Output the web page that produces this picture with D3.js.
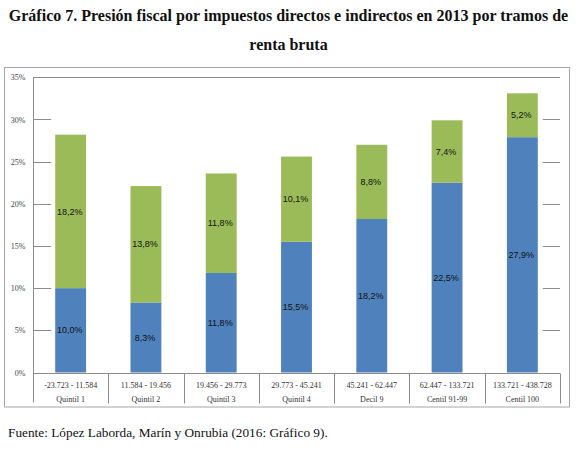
<!DOCTYPE html>
<html><head><meta charset="utf-8">
<script src="https://cdn.jsdelivr.net/npm/d3@7"></script>
<style>body{margin:0;background:#fff}svg{display:block}</style>
</head><body>
<script>
const categories = ["Quintil 1","Quintil 2","Quintil 3","Quintil 4","Decil 9","Centil 91-99","Centil 100"];
const ranges = ["-23.723 - 11.584","11.584 - 19.456","19.456 - 29.773","29.773 - 45.241","45.241 - 62.447","62.447 - 133.721","133.721 - 438.728"];
const directos = [10.0, 8.3, 11.8, 15.5, 18.2, 22.5, 27.9];
const indirectos = [18.2, 13.8, 11.8, 10.1, 8.8, 7.4, 5.2];
const yTicks = [0,5,10,15,20,25,30,35];
const title1 = "Gráfico 7. Presión fiscal por impuestos directos e indirectos en 2013 por tramos de";
const title2 = "renta bruta";
const source = "Fuente: López Laborda, Marín y Onrubia (2016: Gráfico 9).";

const W=577,H=455;
const svg=d3.select("body").append("svg").attr("width",W).attr("height",H);
const serif="'Liberation Serif','Times New Roman',serif";
const sans="'Liberation Sans',Arial,sans-serif";

svg.append("text").attr("x",288.5).attr("y",21).attr("text-anchor","middle")
  .attr("font-family",serif).attr("font-weight","bold").attr("font-size",16).attr("fill","#111").text(title1);
svg.append("text").attr("x",288.5).attr("y",50).attr("text-anchor","middle")
  .attr("font-family",serif).attr("font-weight","bold").attr("font-size",16).attr("fill","#111").text(title2);

// outer frame
svg.append("rect").attr("x",4.5).attr("y",67.5).attr("width",565).attr("height",339.5)
  .attr("fill","none").attr("stroke","#a6a6a6").attr("stroke-width",1);

const x0=33,x1=560,yTop=77.3,yBot=372.5;
const x=d3.scaleBand().domain(categories).range([x0,x1]).padding(0);
const y=d3.scaleLinear().domain([0,35]).range([yBot,yTop]);
const bw=x.bandwidth()*0.41;
const bx=c=>x(c)+x.bandwidth()/2-bw/2;

// gridlines only in outer margin segments
const leftEnd=bx(categories[0])-4, rightStart=bx(categories[categories.length-1])+bw+5;
const g=svg.append("g");
yTicks.filter(t=>t>0&&t<35).forEach(t=>{
  g.append("line").attr("x1",x0).attr("x2",leftEnd).attr("y1",Math.round(y(t))+0.5).attr("y2",Math.round(y(t))+0.5).attr("stroke","#8c8c8c");
  g.append("line").attr("x1",rightStart).attr("x2",x1).attr("y1",Math.round(y(t))+0.5).attr("y2",Math.round(y(t))+0.5).attr("stroke","#8c8c8c");
});
// top line
svg.append("line").attr("x1",x0).attr("x2",x1).attr("y1",Math.round(yTop)+0.5).attr("y2",Math.round(yTop)+0.5).attr("stroke","#8c8c8c");

// bars
const blue="#4F81BD", green="#9BBB59";
categories.forEach((c,i)=>{
  svg.append("rect").attr("x",bx(c)).attr("width",bw).attr("y",y(directos[i])).attr("height",y(0)-y(directos[i])).attr("fill",blue);
  svg.append("rect").attr("x",bx(c)).attr("width",bw).attr("y",y(directos[i]+indirectos[i])).attr("height",y(directos[i])-y(directos[i]+indirectos[i])).attr("fill",green);
  const fmt=v=>v.toFixed(1).replace(".",",")+"%";
  svg.append("text").attr("x",x(c)+x.bandwidth()/2-1).attr("y",y(directos[i]/2)).attr("dy","0.35em").attr("text-anchor","middle")
    .attr("font-family",sans).attr("font-size",9).attr("fill","#111").text(fmt(directos[i]));
  svg.append("text").attr("x",x(c)+x.bandwidth()/2-1).attr("y",y(directos[i]+indirectos[i]/2)).attr("dy","0.35em").attr("text-anchor","middle")
    .attr("font-family",sans).attr("font-size",9).attr("fill","#111").text(fmt(indirectos[i]));
});

// y axis
const yAxis=d3.axisLeft(y).tickValues(yTicks).tickFormat(d=>d+"%").tickSize(0).tickPadding(8);
const ya=svg.append("g").attr("transform",`translate(${x0+0.5},0)`).call(yAxis);
ya.select(".domain").attr("stroke","#8c8c8c").attr("d",`M0,${yTop}V${yBot+30}`);
ya.selectAll("text").attr("font-family",serif).attr("font-size",8).attr("fill","#444");

// x axis (table style)
const xAxis=d3.axisBottom(x).tickSize(0).tickFormat("");
const xa=svg.append("g").attr("transform",`translate(0,${Math.round(yBot)+0.5})`).call(xAxis);
xa.select(".domain").attr("stroke","#8c8c8c").attr("d",`M${x0},0H${x1}`);
categories.forEach((c,i)=>{
  const sx=Math.round(x(c)+x.bandwidth())+0.5;
  xa.append("line").attr("x1",sx).attr("x2",sx).attr("y1",0).attr("y2",30).attr("stroke","#8c8c8c");
  xa.append("text").attr("x",x(c)+x.bandwidth()/2).attr("y",14).attr("text-anchor","middle")
    .attr("font-family",serif).attr("font-size",8).attr("fill","#333").text(ranges[i]);
  xa.append("text").attr("x",x(c)+x.bandwidth()/2).attr("y",28.5).attr("text-anchor","middle")
    .attr("font-family",serif).attr("font-size",8).attr("fill","#333").text(c);
});

svg.append("text").attr("x",8).attr("y",437).attr("font-family",serif).attr("font-size",13.3).attr("fill","#111").text(source);
</script>
</body></html>
